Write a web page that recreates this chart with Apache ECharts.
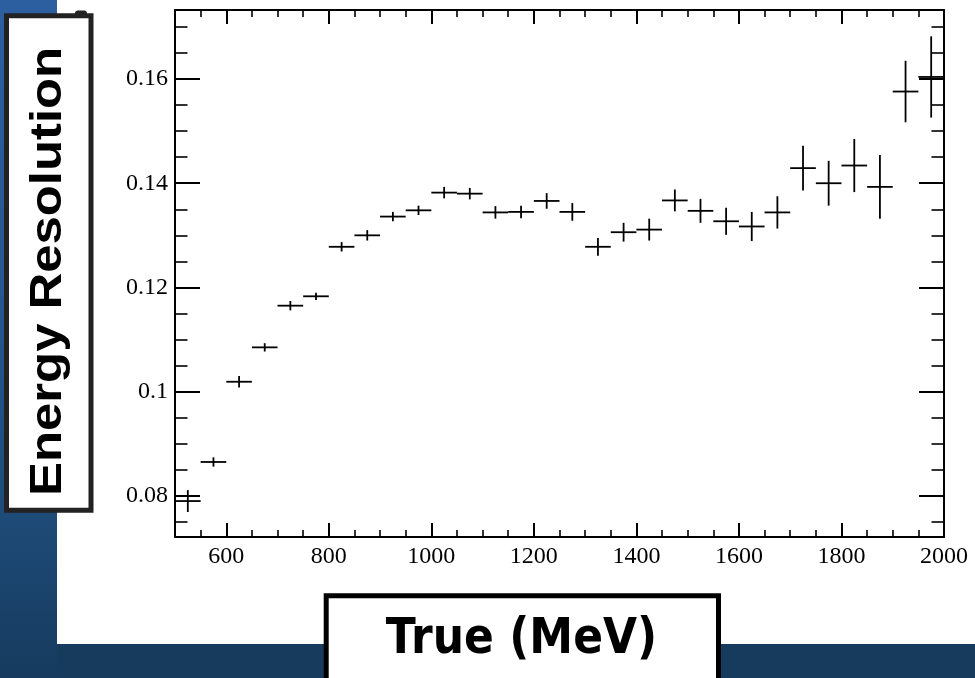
<!DOCTYPE html>
<html>
<head>
<meta charset="utf-8">
<script src="https://cdn.jsdelivr.net/npm/echarts@6/dist/echarts.min.js"></script>
<style>
html,body{margin:0;padding:0;background:#ffffff;}
#c{width:975px;height:678px;}
</style>
</head>
<body>
<div id="c"></div>
<script>
// ---- data ----
const binCenters = [525, 575, 625, 675, 725, 775, 825, 875, 925, 975,
                    1025, 1075, 1125, 1175, 1225, 1275, 1325, 1375, 1425, 1475,
                    1525, 1575, 1625, 1675, 1725, 1775, 1825, 1875, 1925, 1975];
const resolution = [0.0790, 0.0865, 0.1019, 0.1085, 0.1165, 0.1183, 0.1278, 0.1300, 0.1336, 0.1348,
                    0.1382, 0.1380, 0.1344, 0.1345, 0.1366, 0.1345, 0.1278, 0.1306, 0.1311, 0.1367,
                    0.1347, 0.1327, 0.1317, 0.1344, 0.1429, 0.1400, 0.1434, 0.1393, 0.1576, 0.1604];
const resolutionErr = [0.0021, 0.0009, 0.0011, 0.0008, 0.0009, 0.0007, 0.0009, 0.0010, 0.0009, 0.0009,
                       0.0011, 0.0011, 0.0012, 0.0012, 0.0015, 0.0017, 0.0017, 0.0018, 0.0021, 0.0021,
                       0.0023, 0.0026, 0.0028, 0.0031, 0.0043, 0.0043, 0.0051, 0.0061, 0.0059, 0.0078];
const binHalfWidth = 25;

const xMajorTicks = [600, 800, 1000, 1200, 1400, 1600, 1800, 2000];
const xMinorTicks = [550, 650, 700, 750, 850, 900, 950, 1050, 1100, 1150, 1250, 1300, 1350,
                     1450, 1500, 1550, 1650, 1700, 1750, 1850, 1900, 1950];
const yMajorTicks = [0.08, 0.10, 0.12, 0.14, 0.16];
const yTickLabels = ['0.08', '0.1', '0.12', '0.14', '0.16'];
const yMinorTicks = [0.075, 0.085, 0.09, 0.095, 0.105, 0.11, 0.115, 0.125, 0.13, 0.135,
                     0.145, 0.15, 0.155, 0.165, 0.17];

const xTitle = 'True (MeV)';
const yTitle = 'Energy Resolution';

const X_MIN = 500, X_MAX = 2000, Y_MIN = 0.0721, Y_MAX = 0.17325;

// ---- build chart ----
const labelFont = {fontFamily: '"Liberation Serif", "Times New Roman", serif', fontSize: 24, color: '#000'};

function xAx(pos, ticks, len, showLine, showLabel, w) {
  return {
    type: 'value', position: pos, min: X_MIN, max: X_MAX, offset: 0,
    axisLine: {show: showLine, onZero: false, lineStyle: {color: '#000', width: 2}},
    axisTick: {show: true, inside: true, length: len, customValues: ticks, lineStyle: {color: '#000', width: w}},
    axisLabel: Object.assign({show: showLabel, customValues: ticks, margin: 8,
      formatter: v => String(Math.round(v))}, labelFont),
    splitLine: {show: false}
  };
}
function yAx(pos, ticks, len, showLine, showLabel, w) {
  return {
    type: 'value', position: pos, min: Y_MIN, max: Y_MAX, offset: 0,
    axisLine: {show: showLine, onZero: false, lineStyle: {color: '#000', width: 2}},
    axisTick: {show: true, inside: true, length: len, customValues: ticks, lineStyle: {color: '#000', width: w}},
    axisLabel: Object.assign({show: showLabel, customValues: ticks, margin: 7,
      formatter: v => {
        const i = yMajorTicks.findIndex(t => Math.abs(t - v) < 1e-9);
        return i >= 0 ? yTickLabels[i] : '';
      }}, labelFont),
    splitLine: {show: false}
  };
}

const data = binCenters.map((x, i) => [x, resolution[i], resolutionErr[i]]);

const chart = echarts.init(document.getElementById('c'), null, {renderer: 'canvas'});
chart.setOption({
  animation: false,
  backgroundColor: '#ffffff',
  grid: {left: 175, right: 31, top: 10, bottom: 141, containLabel: false},
  xAxis: [
    xAx('bottom', xMajorTicks, 14, true, true, 2),
    xAx('bottom', xMinorTicks, 7, false, false, 1.6),
    xAx('top', xMajorTicks, 14, true, false, 2),
    xAx('top', xMinorTicks, 7, false, false, 1.6)
  ],
  yAxis: [
    yAx('left', yMajorTicks, 25, true, true, 2),
    yAx('left', yMinorTicks, 12.5, false, false, 1.6),
    yAx('right', yMajorTicks, 25, true, false, 2),
    yAx('right', yMinorTicks, 12.5, false, false, 1.6)
  ],
  series: [{
    type: 'custom',
    xAxisIndex: 0, yAxisIndex: 0,
    data: data,
    clip: true,
    renderItem: function (params, api) {
      const xc = api.value(0), y = api.value(1), e = api.value(2);
      const pL = api.coord([xc - binHalfWidth, y]);
      const pR = api.coord([xc + binHalfWidth, y]);
      const pT = api.coord([xc, y + e]);
      const pB = api.coord([xc, y - e]);
      const st = {stroke: '#000', lineWidth: 1.8, fill: null};
      return {
        type: 'group',
        children: [
          {type: 'line', shape: {x1: pL[0], y1: pL[1], x2: pR[0], y2: pR[1]}, style: st},
          {type: 'line', shape: {x1: pT[0], y1: pT[1], x2: pB[0], y2: pB[1]}, style: st}
        ]
      };
    }
  }],
  graphic: [
    // blue slide background strips
    {type: 'rect', shape: {x: 0, y: 0, width: 57, height: 678}, z: 1,
     style: {fill: new echarts.graphic.LinearGradient(0, 0, 0, 1, [
       {offset: 0, color: '#2c5f9f'}, {offset: 0.4, color: '#28589322'.slice(0,7)},
       {offset: 0.75, color: '#1e4b79'}, {offset: 1, color: '#163b5e'}])}},
    {type: 'rect', shape: {x: 57, y: 644, width: 918, height: 34}, z: 1,
     style: {fill: '#163b5d'}},
    // small dark blob above the y-title box
    {type: 'rect', shape: {x: 75, y: 10.5, width: 12, height: 6, r: [3, 3, 0, 0]}, z: 9,
     style: {fill: '#222'}},
    // y title box
    {type: 'rect', shape: {x: 6.5, y: 15.8, width: 84.5, height: 494.5}, z: 10,
     style: {fill: '#ffffff', stroke: '#222', lineWidth: 5}},
    {type: 'text', x: 49.2, y: 271.4, rotation: Math.PI / 2, scaleX: 1.155, z: 11,
     style: {text: yTitle, font: 'bold 44px "Liberation Sans", Arial, sans-serif', fill: '#000',
             textAlign: 'center', textVerticalAlign: 'middle', align: 'center', verticalAlign: 'middle'}},
    // x title box
    {type: 'rect', shape: {x: 326.2, y: 595.8, width: 392.3, height: 120}, z: 10,
     style: {fill: '#ffffff', stroke: '#000', lineWidth: 5}},
    {type: 'text', x: 521.5, y: 640, scaleY: 1.15, z: 11,
     style: {text: xTitle, font: 'bold 44px "DejaVu Sans", Verdana, sans-serif', fill: '#000',
             textAlign: 'center', textVerticalAlign: 'middle', align: 'center', verticalAlign: 'middle'}}
  ]
});
</script>
</body>
</html>
